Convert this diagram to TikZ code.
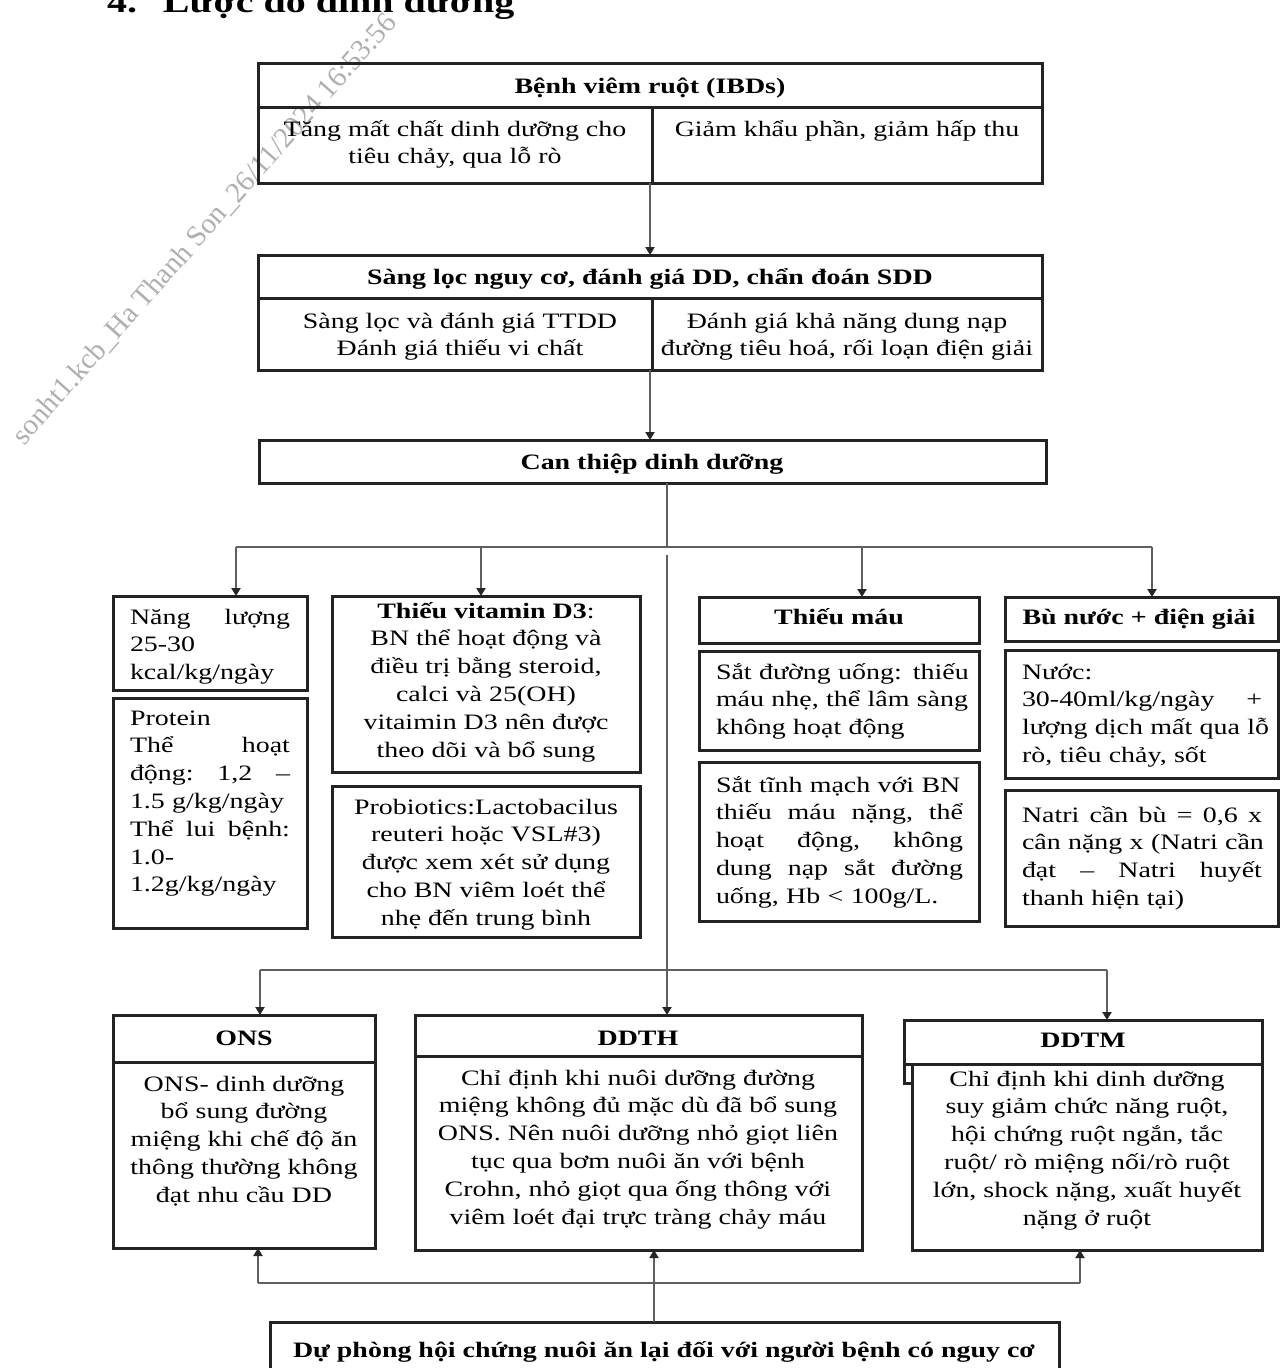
\documentclass[tikz,border=0pt]{standalone}
\usepackage{fontspec}
\setmainfont{Liberation Serif}[FakeStretch=1.27]
\newfontfamily\wmfont{Liberation Serif}
\usetikzlibrary{arrows.meta}
\newcommand\tstr{\rule{0pt}{24pt}}
\newcommand\bx[5]{\node[boxst, minimum width={#4-#2}, minimum height={#5-#3}] (#1) at ({(#2+#4)/2},{(#3+#5)/2}) {};}
\definecolor{bordc}{RGB}{35,35,35}
\definecolor{connc}{RGB}{95,95,95}
\definecolor{wmc}{RGB}{175,175,175}
\begin{document}
\begin{tikzpicture}[x=1pt,y=-1pt,
  font=\fontsize{22}{27.8}\selectfont,
  boxst/.style={draw=bordc, line width=3pt, inner sep=0pt, outer sep=0pt, rectangle},
  divl/.style={draw=bordc, line width=3pt},
  conn/.style={draw=connc, line width=2.6pt},
  arr/.style={conn, -{Triangle[length=8pt,width=9pt,color=black!85]}},
  txt/.style={inner sep=0pt, outer sep=0pt},
  ctext/.style={txt, align=center, anchor=north},
  ltext/.style={txt, align=left, anchor=north west},
  bld/.style={font=\fontsize{22}{27.8}\selectfont\bfseries}]
\useasboundingbox (0,0) rectangle (1280,1368);
\clip (0,0) rectangle (1280,1368);
\fill[white] (0,0) rectangle (1280,1368);

% watermark and title
\node[txt, anchor=base west, rotate=48.5, text=wmc, font=\wmfont\fontsize{29}{30}\selectfont] (wm) at (24,446) {sonht1.kcb\_Ha Thanh Son\_26/11/2024 16:53:56};
\node[txt, anchor=base west, font=\fontsize{31.5}{36}\selectfont\bfseries] (title) at (107,12) {4.\hspace{26pt}Lược đồ dinh dưỡng};

% boxes
\bx{ibd}{258}{63}{1042}{183}
\draw[divl] (258,107) -- (1042,107);
\draw[divl] (652,107) -- (652,183);
\bx{sl}{258}{255}{1042}{370}
\draw[divl] (258,298) -- (1042,298);
\draw[divl] (652,298) -- (652,370);
\bx{ct}{259}{440}{1046}{483}

\bx{nl}{113}{596}{307}{690}
\bx{pr}{113}{698}{307}{928}
\bx{vd}{332}{596}{640}{772}
\bx{pb}{332}{786}{640}{937}
\bx{tm}{699}{597}{979}{643}
\bx{su}{699}{651}{979}{750}
\bx{st}{699}{762}{979}{921}
\bx{bn}{1005}{597}{1278}{641}
\bx{nu}{1005}{650}{1278}{778}
\bx{na}{1005}{790}{1278}{926}

\bx{ons}{113}{1015}{375}{1248}
\draw[divl] (113,1062) -- (375,1062);
\bx{ddth}{415}{1015}{862}{1250}
\draw[divl] (415,1056) -- (862,1056);
\bx{ddtmh}{904}{1020}{1262}{1064}
\bx{ddtm}{912}{1064}{1262}{1250}
\draw[divl] (904,1064) -- (904,1083) -- (912,1083);
\bx{prev}{270}{1322}{1059}{1420}

% connectors
\draw[arr] (ibd.south) -- (ibd.south |- sl.north);
\draw[arr] (sl.south) -- (sl.south |- ct.north);
\coordinate (bus) at (667,547);
\coordinate (busL) at (236,547);
\coordinate (busB) at (481,547);
\coordinate (busC) at (862,547);
\coordinate (busR) at (1152,547);
\draw[conn] (ct.south -| bus) -- (bus);
\draw[conn] (busL) -- (busR);
\draw[arr] (busL) -- (busL |- nl.north);
\draw[arr] (busB) -- (busB |- vd.north);
\draw[arr] (busC) -- (busC |- tm.north);
\draw[arr] (busR) -- (busR |- bn.north);
\coordinate (mid) at (667,555);
\draw[arr] (mid) -- (mid |- ddth.north);
\coordinate (lbL) at (260,970);
\coordinate (lbR) at (1107,970);
\draw[conn] (lbL) -- (lbR);
\draw[arr] (lbL) -- (lbL |- ons.north);
\draw[arr] (lbR) -- (lbR |- ddtmh.north);
\coordinate (ubL) at (258,1283);
\coordinate (ubM) at (654,1283);
\coordinate (ubR) at (1080,1283);
\draw[conn] (ubL) -- (ubR);
\draw[arr] (ubL) -- (ubL |- ons.south);
\draw[arr] (ubR) -- (ubR |- ddtm.south);
\draw[arr] (ubM |- prev.north) -- (ubM |- ddth.south);

% texts
\node[ctext, bld] (t1) at (650,69) {\tstr Bệnh viêm ruột (IBDs)};
\node[ctext] (t1a) at (455,112) {\tstr Tăng mất chất dinh dưỡng cho\\tiêu chảy, qua lỗ rò};
\node[ctext] (t1b) at (847,112) {\tstr Giảm khẩu phần, giảm hấp thu};
\node[ctext, bld] (t2) at (650,260) {\tstr Sàng lọc nguy cơ, đánh giá DD, chẩn đoán SDD};
\node[ctext] (t2a) at (460,304) {\tstr Sàng lọc và đánh giá TTDD\\Đánh giá thiếu vi chất};
\node[ctext] (t2b) at (847,304) {\tstr Đánh giá khả năng dung nạp\\đường tiêu hoá, rối loạn điện giải};
\node[ctext, bld] (t3) at (652,445) {\tstr Can thiệp dinh dưỡng};

\node[ltext, text width=160pt] (tnl) at (130,600) {\tstr Năng\hfill lượng\\25-30\\kcal/kg/ngày};
\node[ltext, text width=160pt] (tpr) at (130,701) {\tstr Protein\\Thể\hfill hoạt\\động:\hfill 1,2\hfill –\\1.5 g/kg/ngày\\Thể\hfill lui\hfill bệnh:\\1.0-\\1.2g/kg/ngày};
\node[ctext] (tvd) at (486,594) {\tstr\textbf{Thiếu vitamin D3}:\\BN thể hoạt động và\\điều trị bằng steroid,\\calci và 25(OH)\\vitaimin D3 nên được\\theo dõi và bổ sung};
\node[ctext] (tpb) at (486,790) {\tstr Probiotics:Lactobacilus\\reuteri hoặc VSL\#3)\\được xem xét sử dụng\\cho BN viêm loét thể\\nhẹ đến trung bình};
\node[ctext, bld] (ttm) at (839,600) {\tstr Thiếu máu};
\node[ltext, text width=247pt] (tsu) at (716,655) {\tstr\mbox{Sắt đường uống: thiếu}\\\mbox{máu nhẹ, thể lâm sàng}\\\mbox{không hoạt động}};
\node[ltext, text width=247pt] (tst) at (716,768) {\tstr\mbox{Sắt tĩnh mạch với BN}\\thiếu\hfill máu\hfill nặng,\hfill thể\\hoạt\hfill động,\hfill không\\dung\hfill nạp\hfill sắt\hfill đường\\\mbox{uống, Hb < 100g/L.}};
\node[ctext, bld] (tbn) at (1139,600) {\tstr Bù nước + điện giải};
\node[ltext, text width=240pt] (tnu) at (1022,655) {\tstr Nước:\\30-40ml/kg/ngày\hfill +\\\mbox{lượng dịch mất qua lỗ}\\\mbox{rò, tiêu chảy, sốt}};
\node[ltext, text width=240pt] (tna) at (1022,798) {\tstr Natri\hfill cần\hfill bù\hfill =\hfill 0,6\hfill x\\\mbox{cân nặng x (Natri cần}\\đạt\hfill –\hfill Natri\hfill huyết\\\mbox{thanh hiện tại)}};

\node[ctext, bld] (tons) at (244,1021) {\tstr ONS};
\node[ctext] (tonsb) at (244,1067) {\tstr ONS- dinh dưỡng\\bổ sung đường\\miệng khi chế độ ăn\\thông thường không\\đạt nhu cầu DD};
\node[ctext, bld] (tddth) at (638,1021) {\tstr DDTH};
\node[ctext] (tddthb) at (638,1061) {\tstr Chỉ định khi nuôi dưỡng đường\\miệng không đủ mặc dù đã bổ sung\\ONS. Nên nuôi dưỡng nhỏ giọt liên\\tục qua bơm nuôi ăn với bệnh\\Crohn, nhỏ giọt qua ống thông với\\viêm loét đại trực tràng chảy máu};
\node[ctext, bld] (tddtm) at (1083,1023) {\tstr DDTM};
\node[ctext] (tddtmb) at (1087,1062) {\tstr Chỉ định khi dinh dưỡng\\suy giảm chức năng ruột,\\hội chứng ruột ngắn, tắc\\ruột/ rò miệng nối/rò ruột\\lớn, shock nặng, xuất huyết\\nặng ở ruột};
\node[ctext, bld] (tprev) at (664,1333) {\tstr Dự phòng hội chứng nuôi ăn lại đối với người bệnh có nguy cơ};
\end{tikzpicture}
\end{document}
